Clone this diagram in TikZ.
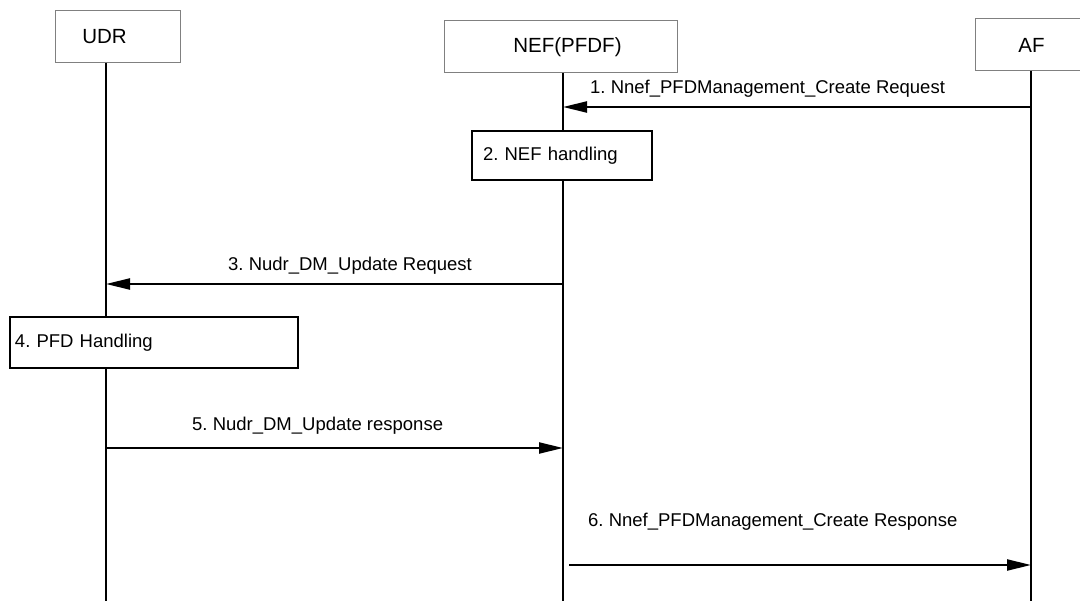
\documentclass[tikz,border=0pt]{standalone}
\usepackage{fontspec}
\setmainfont{Liberation Sans}
\usetikzlibrary{arrows.meta}
\definecolor{boxgray}{RGB}{128,128,128}
\frenchspacing
\begin{document}
\frenchspacing
\begin{tikzpicture}[x=1pt,y=-1pt,
  part/.style={draw=boxgray, line width=1pt, fill=white, minimum height=52pt, inner sep=0pt},
  ptxt/.style={font=\fontsize{20.5}{24}\selectfont, inner sep=0pt},
  proc/.style={draw=black, line width=1.3pt, fill=white, align=left, inner ysep=0pt,
               font=\fontsize{18.5}{22}\selectfont},
  life/.style={line width=1.3pt},
  msg/.style={line width=2.3pt, -{Triangle[length=24pt,width=11pt]}},
  lbl/.style={font=\fontsize{18.5}{22}\selectfont, inner sep=0pt, anchor=base west}
]
\useasboundingbox (0,0) rectangle (1080,601);
\clip (0,0) rectangle (1080,601);

% participants
\node[part, minimum width=125pt, label={[ptxt, xshift=-13pt]center:UDR}] (udr) at (117.5,37) {};
\node[part, minimum width=233pt, label={[ptxt, xshift=7pt]center:NEF(PFDF)}] (nef) at (560.5,47) {};
\node[part, minimum width=112pt, label={[ptxt, xshift=0.5pt]center:AF}] (af) at (1031,45) {};

% lifeline ends
\coordinate (udrT) at (106,63);  \coordinate (udrB) at (106,601);
\coordinate (nefT) at (563,73);  \coordinate (nefB) at (563,601);
\coordinate (afT)  at (1031,71); \coordinate (afB)  at (1031,601);
\draw[life] (udrT) -- (udrB);
\draw[life] (nefT) -- (nefB);
\draw[life] (afT) -- (afB);

% processing boxes
\node[proc, minimum width=180pt, minimum height=49pt, text width=158pt, inner xsep=11pt] (p2) at (562,155.5) {2. NEF handling};
\node[proc, minimum width=288pt, minimum height=51pt, text width=278pt, inner xsep=5pt] (p4) at (154,342.5) {4. PFD Handling};

% message end points
\coordinate (m1s) at (1031,107); \coordinate (m1e) at (563,107);
\coordinate (m3s) at (563,284);  \coordinate (m3e) at (106,284);
\coordinate (m5s) at (106,448);  \coordinate (m5e) at (563,448);
\coordinate (m6s) at (569,565);  \coordinate (m6e) at (1031,565);

\draw[msg] (m1s) -- (m1e);
\draw[msg] (m3s) -- (m3e);
\draw[msg] (m5s) -- (m5e);
\draw[msg] (m6s) -- (m6e);

% labels
\node[lbl] (l1) at (590,94) {1. Nnef\_PFDManagement\_Create Request};
\node[lbl] (l3) at (228,271) {3. Nudr\_DM\_Update Request};
\node[lbl] (l5) at (192,431) {5. Nudr\_DM\_Update response};
\node[lbl] (l6) at (588,527) {6. Nnef\_PFDManagement\_Create Response};
\end{tikzpicture}
\end{document}
